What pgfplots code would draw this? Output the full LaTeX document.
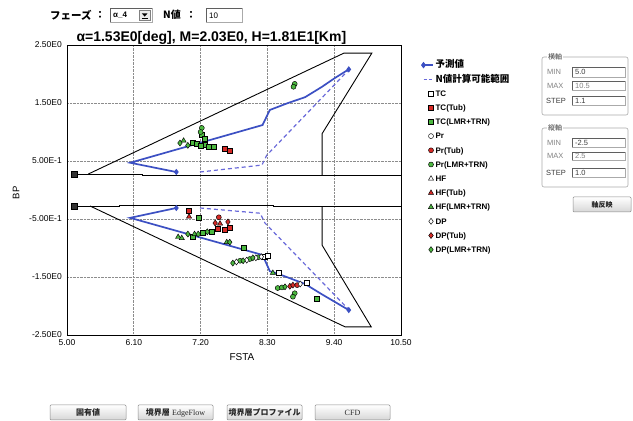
\documentclass[border=0pt]{standalone}
\usepackage{pgfplots}
\pgfplotsset{compat=1.18}
\usepackage{fontspec}
\setmainfont{Liberation Sans}
\newfontfamily\jp{Noto Sans CJK JP}
\newfontfamily\rmlatin{Liberation Serif}

\definecolor{predblue}{RGB}{60,80,195}
\definecolor{rangeblue}{RGB}{105,105,218}
\definecolor{tubred}{RGB}{214,42,38}
\definecolor{lamgreen}{RGB}{76,184,64}
\definecolor{gridgray}{RGB}{140,140,140}
\definecolor{uiedge}{RGB}{170,170,170}
\definecolor{uidark}{RGB}{95,95,95}
\definecolor{uilabel}{RGB}{130,130,130}
\definecolor{uitext}{RGB}{60,60,60}

\pgfplotsset{
  markleg/.style={legend image code/.code={\draw[##1] plot coordinates {(7.5pt,0pt)};}},
  lineleg/.style={legend image code/.code={\draw[##1,mark repeat=2,mark phase=1] plot coordinates {(0pt,0pt) (9pt,0pt)};}},
  TC/.style={only marks, mark=square*, mark size=2.5pt, mark options={draw=black, fill=#1, line width=0.45pt, solid}},
  Pr/.style={only marks, mark=*, mark size=2.5pt, mark options={draw=black, fill=#1, line width=0.45pt, solid}},
  HF/.style={only marks, mark=triangle*, mark size=3pt, mark options={draw=black, fill=#1, line width=0.45pt, solid}},
  DP/.style={only marks, mark=diamond*, mark size=3pt, mark options={draw=black, fill=#1, line width=0.45pt, solid}},
}

% sunken text box: x1, y1, x2, y2 (screen coordinates, y downwards)
\newcommand{\tbox}[4]{%
  \filldraw[fill=white, draw=uiedge, line width=0.5pt] (#1,#2) rectangle (#3,#4);
  \draw[uidark, line width=0.7pt] (#1,#4) -- (#1,#2) -- (#3,#2);}
% push button
\newcommand{\btn}[5]{%
  \shade[top color=white, bottom color=black!16, draw=black!45, line width=0.5pt, rounded corners=1pt] (#1,#2) rectangle (#3,#4);
  \node[font=\fontsize{8}{9}\selectfont, text=black!85] at ({(#1+#3)/2},{(#2+#4)/2}) {#5};}

\begin{document}
\begin{tikzpicture}[x=1pt,y=1pt]
\fill[white] (0,0) rectangle (633,421);
\useasboundingbox (0,0) rectangle (633,421);

\begin{axis}[
  at={(67pt,86pt)}, anchor=south west,
  width=334pt, height=290pt, scale only axis,
  xmin=5, xmax=10.5, ymin=-2.5, ymax=2.5,
  xtick={5,6.1,7.2,8.3,9.4,10.5},
  xticklabels={5.00,6.10,7.20,8.30,9.40,10.50},
  ytick={-2.5,-1.5,-0.5,0.5,1.5,2.5},
  yticklabels={-2.50E0,-1.50E0,-5.00E-1,5.00E-1,1.50E0,2.50E0},
  major tick length=0pt,
  grid=major,
  major grid style={gridgray, densely dotted, line width=0.7pt},
  axis line style={black, line width=0.9pt},
  tick label style={font=\fontsize{8.5}{10}\selectfont, inner sep=1pt},
  xticklabel style={yshift=-3pt},
  yticklabel style={xshift=-4pt},
  legend cell align=left,
  legend style={at={(1.0629,0.9552)}, anchor=north west, draw=none, fill=none,
    inner sep=0pt, outer sep=0pt, row sep=0pt, column sep=2pt,
    font=\fontsize{8}{9}\selectfont\bfseries,
    nodes={inner sep=0pt, text height=9.9pt, text depth=4.3pt}},
]
% feasible region boundaries
\addplot[forget plot, black, line width=0.9pt] coordinates {(5.12,0.275) (6.25,0.275) (6.25,0.258) (10.5,0.258)};
\addplot[forget plot, black, line width=0.9pt] coordinates {(5.12,-0.276) (5.87,-0.276) (5.87,-0.265) (8.40,-0.265) (8.40,-0.276) (10.5,-0.276)};
\addplot[forget plot, black, line width=0.9pt] coordinates {(5.35,0.275) (9.56,2.36) (10.02,2.36) (9.20,0.97) (9.20,0.258)};
\addplot[forget plot, black, line width=0.9pt] coordinates {(5.38,-0.276) (9.58,-2.36) (10.01,-2.36) (9.20,-0.95) (9.20,-0.276)};
\addplot[forget plot, only marks, mark=square*, mark size=2.8pt, mark options={draw=black, fill=black!80}] coordinates {(5.12,0.275) (5.12,-0.276)};

% N-value computable range
\addplot[forget plot, rangeblue, line width=1.2pt, dash pattern=on 4pt off 3pt] coordinates {(7.19,0.31) (8.21,0.43) (8.29,0.60) (9.62,2.05)};
\addplot[forget plot, rangeblue, line width=1.2pt, dash pattern=on 4pt off 3pt] coordinates {(7.19,-0.31) (8.18,-0.40) (8.26,-0.57) (9.62,-2.04)};

% predicted values
\addplot[forget plot, predblue, line width=1.7pt, mark=diamond*, mark size=1.8pt, mark indices={1,9}] coordinates {(6.80,0.31) (6.04,0.47) (8.22,1.12) (8.34,1.38) (8.64,1.50) (8.92,1.60) (9.20,1.78) (9.41,1.93) (9.64,2.08)};
\addplot[forget plot, predblue, line width=1.7pt, mark=diamond*, mark size=1.8pt, mark indices={1,8}] coordinates {(6.80,-0.31) (6.04,-0.48) (8.22,-1.12) (8.34,-1.40) (8.49,-1.45) (8.92,-1.62) (9.20,-1.80) (9.64,-2.07)};

% measured transition data
\addplot[forget plot, TC=white] coordinates {(8.25,-1.15) (8.31,-1.14) (8.49,-1.43) (8.94,-1.60)};
\addplot[forget plot, TC=tubred] coordinates {(7.60,0.71) (7.68,0.67) (7.01,-0.35) (7.49,-0.66) (7.60,-0.68) (7.68,-0.65)};
\addplot[forget plot, TC=lamgreen] coordinates {(7.07,0.82) (7.14,0.80) (7.22,0.96) (7.26,0.88) (7.26,0.78) (7.34,0.74) (7.42,0.74) (7.20,0.76) (7.17,-0.48) (7.07,-0.81) (7.24,-0.74) (7.39,-0.72) (7.91,-1.00) (9.12,-1.88)};
\addplot[forget plot, Pr=tubred] coordinates {(7.50,-0.47) (8.79,-1.64)};
\addplot[forget plot, Pr=lamgreen] coordinates {(7.22,1.07) (7.20,1.00) (8.75,1.83) (8.73,1.78) (7.85,-1.22) (8.01,-1.19) (8.15,-1.16) (8.47,-1.69) (8.54,-1.68) (8.75,-1.78) (8.72,-1.84)};
\addplot[forget plot, HF=tubred] coordinates {(7.01,-0.46) (7.52,-0.58)};
\addplot[forget plot, HF=lamgreen] coordinates {(6.92,0.85) (6.83,-0.81) (6.89,-0.83) (7.10,-0.76) (7.63,-0.90) (8.39,-1.43)};
\addplot[forget plot, DP=white] coordinates {(7.79,-1.24) (7.96,-1.21) (8.11,-1.17) (8.20,-1.15) (8.84,-1.62)};
\addplot[forget plot, DP=tubred] coordinates {(7.44,-0.57) (7.65,-0.55) (8.67,-1.66) (8.72,-1.64)};
\addplot[forget plot, DP=lamgreen] coordinates {(6.86,0.81) (6.99,0.77) (6.99,-0.76) (7.16,-0.76) (7.31,-0.72) (7.68,-0.90) (7.73,-1.26) (7.90,-1.22) (8.06,-1.17) (8.59,-1.67)};

% legend
\addlegendimage{predblue, line width=1.6pt, mark=diamond*, mark size=2pt, lineleg}
\addlegendentry{{\jp\bfseries\fontsize{9.5}{10}\selectfont 予測値}}
\addlegendimage{rangeblue, line width=1.2pt, dash pattern=on 3pt off 2pt, lineleg}
\addlegendentry{{\jp\bfseries\fontsize{9.5}{10}\selectfont N値計算可能範囲}}
\addlegendimage{TC=white, markleg}\addlegendentry{TC}
\addlegendimage{TC=tubred, markleg}\addlegendentry{TC(Tub)}
\addlegendimage{TC=lamgreen, markleg}\addlegendentry{TC(LMR+TRN)}
\addlegendimage{Pr=white, markleg}\addlegendentry{Pr}
\addlegendimage{Pr=tubred, markleg}\addlegendentry{Pr(Tub)}
\addlegendimage{Pr=lamgreen, markleg}\addlegendentry{Pr(LMR+TRN)}
\addlegendimage{HF=white, markleg}\addlegendentry{HF}
\addlegendimage{HF=tubred, markleg}\addlegendentry{HF(Tub)}
\addlegendimage{HF=lamgreen, markleg}\addlegendentry{HF(LMR+TRN)}
\addlegendimage{DP=white, markleg}\addlegendentry{DP}
\addlegendimage{DP=tubred, markleg}\addlegendentry{DP(Tub)}
\addlegendimage{DP=lamgreen, markleg}\addlegendentry{DP(LMR+TRN)}
\end{axis}

% titles and axis labels
\node[anchor=base west, font=\fontsize{14}{16}\selectfont\bfseries] at (73,379) {α=1.53E0[deg], M=2.03E0, H=1.81E1[Km]};
\node[rotate=90, font=\fontsize{9.5}{11}\selectfont] at (16,228) {BP};
\node[font=\fontsize{10}{12}\selectfont] at (242,64) {FSTA};

\begin{scope}[shift={(0,421)}, yscale=-1]
  % phase selector and N value
  \node[anchor=west, inner sep=0pt, font=\jp\bfseries\fontsize{10.5}{12}\selectfont] at (50,15) {フェーズ};
  \node[anchor=west, inner sep=0pt, font=\jp\bfseries\fontsize{10}{12}\selectfont] at (95,15) {：};
  \tbox{110}{8}{152}{22}
  \node[anchor=west, inner sep=0pt, font=\fontsize{8}{9}\selectfont\bfseries] at (113,15.5) {α\_4};
  \filldraw[fill=black!8, draw=black!50, line width=0.4pt] (139,10) rectangle (150.5,20.5);
  \fill[black] (141.8,13.3) -- (147.6,13.3) -- (144.7,16.6) -- cycle;
  \draw[black, line width=0.6pt] (141.8,18) -- (147.6,18);
  \node[anchor=west, inner sep=0pt, font=\jp\bfseries\fontsize{10}{12}\selectfont] at (163,15) {N値};
  \node[anchor=west, inner sep=0pt, font=\jp\bfseries\fontsize{10}{12}\selectfont] at (186,15) {：};
  \tbox{206}{8}{242}{22}
  \node[anchor=west, inner sep=0pt, font=\fontsize{8}{9}\selectfont] at (209,15.5) {10};

  % horizontal axis settings
  \draw[uiedge, line width=0.6pt, rounded corners=2pt] (542,57) rectangle (628,115);
  \node[anchor=west, fill=white, inner sep=1pt, font=\jp\fontsize{7}{8}\selectfont, text=uitext] at (547,57) {横軸};
  \node[anchor=west, inner sep=0pt, font=\fontsize{7.5}{9}\selectfont, text=uilabel] at (547,72) {MIN};
  \node[anchor=west, inner sep=0pt, font=\fontsize{7.5}{9}\selectfont, text=uilabel] at (547,85.5) {MAX};
  \node[anchor=west, inner sep=0pt, font=\fontsize{7.5}{9}\selectfont, text=uitext] at (546,100.5) {STEP};
  \tbox{572}{67}{625}{77}
  \tbox{572}{81}{625}{90}
  \tbox{572}{96}{625}{105}
  \node[anchor=west, inner sep=0pt, font=\fontsize{7.5}{9}\selectfont, text=uitext] at (575,72) {5.0};
  \node[anchor=west, inner sep=0pt, font=\fontsize{7.5}{9}\selectfont, text=uilabel] at (575,85.5) {10.5};
  \node[anchor=west, inner sep=0pt, font=\fontsize{7.5}{9}\selectfont, text=uitext] at (575,100.5) {1.1};

  % vertical axis settings
  \draw[uiedge, line width=0.6pt, rounded corners=2pt] (542,128) rectangle (628,187);
  \node[anchor=west, fill=white, inner sep=1pt, font=\jp\fontsize{7}{8}\selectfont, text=uitext] at (547,128) {縦軸};
  \node[anchor=west, inner sep=0pt, font=\fontsize{7.5}{9}\selectfont, text=uilabel] at (547,142.5) {MIN};
  \node[anchor=west, inner sep=0pt, font=\fontsize{7.5}{9}\selectfont, text=uilabel] at (547,156) {MAX};
  \node[anchor=west, inner sep=0pt, font=\fontsize{7.5}{9}\selectfont, text=uitext] at (546,172.5) {STEP};
  \tbox{572}{138}{625}{147}
  \tbox{572}{152}{625}{160}
  \tbox{572}{168}{625}{177}
  \node[anchor=west, inner sep=0pt, font=\fontsize{7.5}{9}\selectfont, text=uitext] at (575,142.5) {-2.5};
  \node[anchor=west, inner sep=0pt, font=\fontsize{7.5}{9}\selectfont, text=uilabel] at (575,156) {2.5};
  \node[anchor=west, inner sep=0pt, font=\fontsize{7.5}{9}\selectfont, text=uitext] at (575,172.5) {1.0};

  \btn{573}{197}{631}{212}{\jp\bfseries\fontsize{7}{8}\selectfont 軸反映}

  % bottom buttons
  \btn{50}{405}{126}{420}{\jp\bfseries 固有値}
  \btn{138}{405}{213}{420}{{\jp\bfseries 境界層} {\rmlatin EdgeFlow}}
  \btn{227}{405}{302}{420}{\jp\bfseries 境界層プロファイル}
  \btn{315}{405}{390}{420}{\rmlatin CFD}
\end{scope}
\end{tikzpicture}
\end{document}
